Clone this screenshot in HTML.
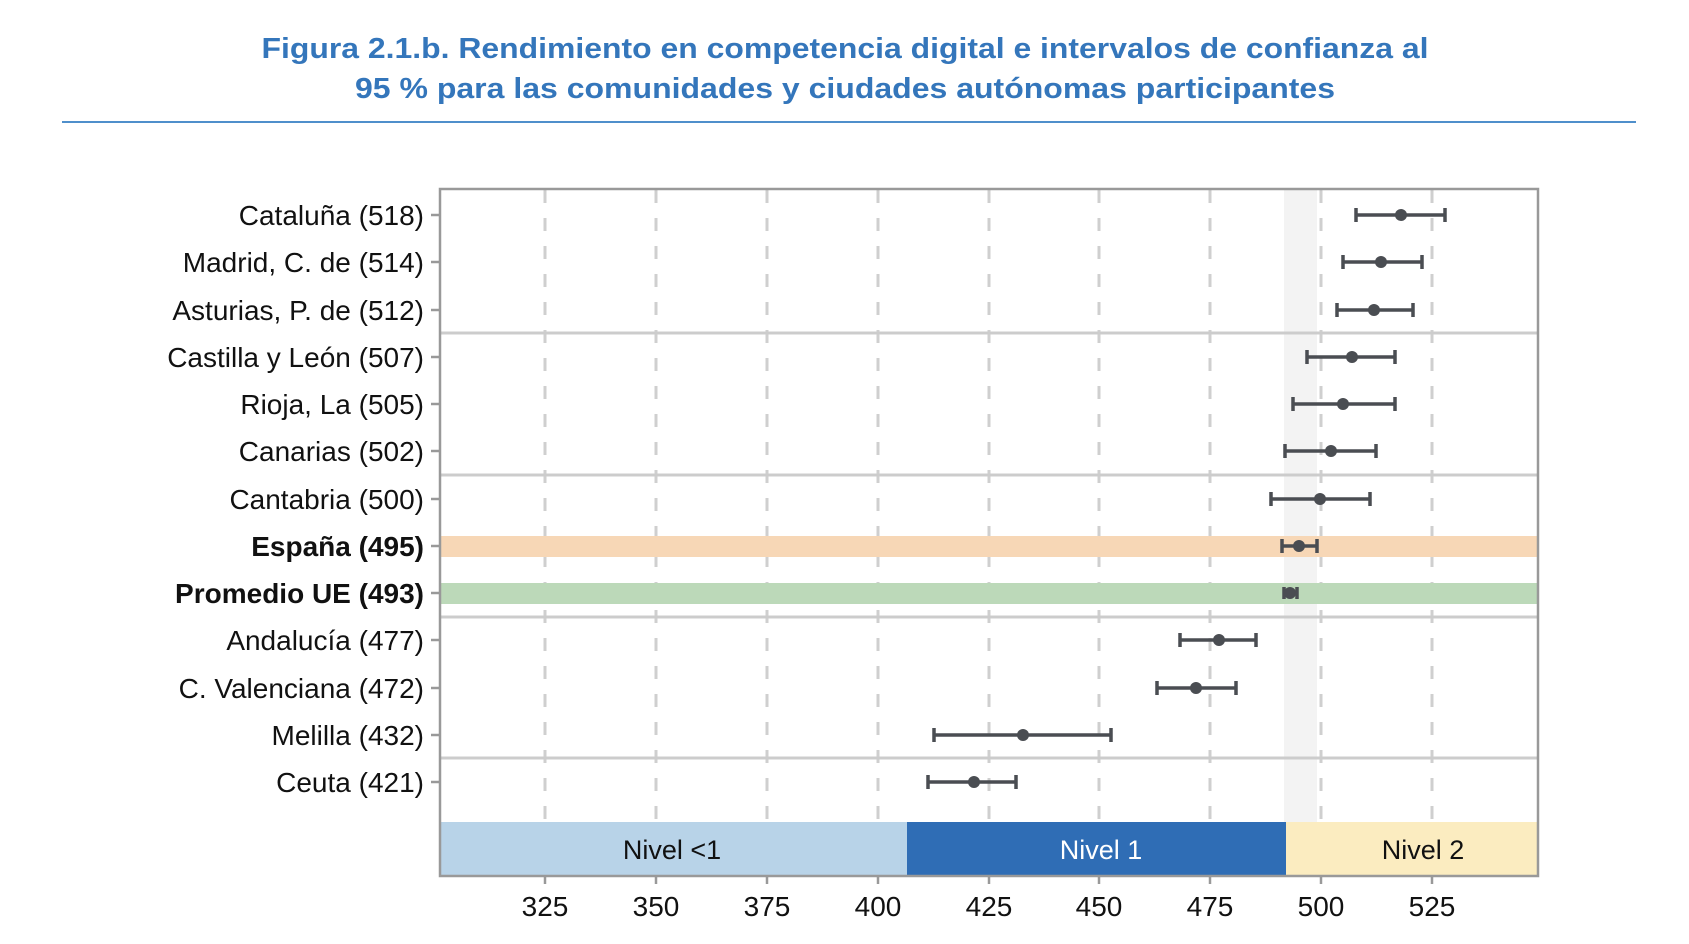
<!DOCTYPE html>
<html><head><meta charset="utf-8"><style>html,body{margin:0;padding:0;background:#fff}svg{display:block}</style></head>
<body>
<svg width="1689" height="944" viewBox="0 0 1689 944" xmlns="http://www.w3.org/2000/svg" font-family="Liberation Sans, Arial, sans-serif">
<text x="845" y="58" text-anchor="middle" font-size="29" font-weight="bold" fill="#3476bb" textLength="1167" lengthAdjust="spacingAndGlyphs">Figura 2.1.b. Rendimiento en competencia digital e intervalos de confianza al</text>
<text x="845" y="98" text-anchor="middle" font-size="29" font-weight="bold" fill="#3476bb" textLength="980" lengthAdjust="spacingAndGlyphs">95 % para las comunidades y ciudades autónomas participantes</text>
<line x1="62" y1="122" x2="1636" y2="122" stroke="#4f8fcb" stroke-width="2"/>
<rect x="1284" y="189" width="33" height="633" fill="#f3f3f3"/>
<g stroke="#cfcfcf" stroke-width="3" stroke-dasharray="13 15">
<line x1="545" y1="190" x2="545" y2="822"/><line x1="656" y1="190" x2="656" y2="822"/><line x1="767" y1="190" x2="767" y2="822"/><line x1="878" y1="190" x2="878" y2="822"/><line x1="989" y1="190" x2="989" y2="822"/><line x1="1099" y1="190" x2="1099" y2="822"/><line x1="1210" y1="190" x2="1210" y2="822"/><line x1="1321" y1="190" x2="1321" y2="822"/><line x1="1432" y1="190" x2="1432" y2="822"/>
</g>
<rect x="440" y="536" width="1098" height="21" fill="#f7d7b6"/>
<rect x="440" y="583" width="1098" height="21" fill="#bcd9b9"/>
<g stroke="#cccccc" stroke-width="3">
<line x1="440" y1="333" x2="1538" y2="333"/><line x1="440" y1="475" x2="1538" y2="475"/><line x1="440" y1="617" x2="1538" y2="617"/><line x1="440" y1="758" x2="1538" y2="758"/>
</g>
<rect x="440" y="822" width="467" height="54" fill="#b8d3e8"/>
<rect x="907" y="822" width="379" height="54" fill="#2f6db5"/>
<rect x="1286" y="822" width="252" height="54" fill="#fbecc0"/>
<text x="672" y="859" text-anchor="middle" font-size="27" fill="#111">Nivel &lt;1</text>
<text x="1101" y="859" text-anchor="middle" font-size="27" fill="#fff">Nivel 1</text>
<text x="1423" y="859" text-anchor="middle" font-size="27" fill="#111">Nivel 2</text>
<rect x="440" y="189" width="1098" height="687" fill="none" stroke="#999" stroke-width="2.5"/>
<g stroke="#999" stroke-width="2.5">
<line x1="545" y1="876" x2="545" y2="884"/><line x1="656" y1="876" x2="656" y2="884"/><line x1="767" y1="876" x2="767" y2="884"/><line x1="878" y1="876" x2="878" y2="884"/><line x1="989" y1="876" x2="989" y2="884"/><line x1="1099" y1="876" x2="1099" y2="884"/><line x1="1210" y1="876" x2="1210" y2="884"/><line x1="1321" y1="876" x2="1321" y2="884"/><line x1="1432" y1="876" x2="1432" y2="884"/>
</g>
<g font-size="28" fill="#111" text-anchor="middle">
<text x="545" y="916">325</text><text x="656" y="916">350</text><text x="767" y="916">375</text><text x="878" y="916">400</text><text x="989" y="916">425</text><text x="1099" y="916">450</text><text x="1210" y="916">475</text><text x="1321" y="916">500</text><text x="1432" y="916">525</text>
</g>
<g stroke="#999" stroke-width="2.5">
<line x1="431" y1="215" x2="440" y2="215"/><line x1="431" y1="262" x2="440" y2="262"/><line x1="431" y1="310" x2="440" y2="310"/><line x1="431" y1="357" x2="440" y2="357"/><line x1="431" y1="404" x2="440" y2="404"/><line x1="431" y1="451" x2="440" y2="451"/><line x1="431" y1="499" x2="440" y2="499"/><line x1="431" y1="546" x2="440" y2="546"/><line x1="431" y1="593" x2="440" y2="593"/><line x1="431" y1="640" x2="440" y2="640"/><line x1="431" y1="688" x2="440" y2="688"/><line x1="431" y1="735" x2="440" y2="735"/><line x1="431" y1="782" x2="440" y2="782"/>
</g>
<g font-size="28" fill="#111" text-anchor="end">
<text x="424" y="225">Cataluña (518)</text>
<text x="424" y="272">Madrid, C. de (514)</text>
<text x="424" y="320">Asturias, P. de (512)</text>
<text x="424" y="367">Castilla y León (507)</text>
<text x="424" y="414">Rioja, La (505)</text>
<text x="424" y="461">Canarias (502)</text>
<text x="424" y="509">Cantabria (500)</text>
<text x="424" y="556" font-weight="bold">España (495)</text>
<text x="424" y="603" font-weight="bold">Promedio UE (493)</text>
<text x="424" y="650">Andalucía (477)</text>
<text x="424" y="698">C. Valenciana (472)</text>
<text x="424" y="745">Melilla (432)</text>
<text x="424" y="792">Ceuta (421)</text>
</g>
<g stroke="#4a4d52" stroke-width="3.5" fill="none">
<path d="M1356 215H1445M1356 208V222M1445 208V222"/>
<path d="M1343 262H1422M1343 255V269M1422 255V269"/>
<path d="M1337 310H1413M1337 303V317M1413 303V317"/>
<path d="M1307 357H1395M1307 350V364M1395 350V364"/>
<path d="M1293 404H1395M1293 397V411M1395 397V411"/>
<path d="M1285 451H1376M1285 444V458M1376 444V458"/>
<path d="M1271 499H1370M1271 492V506M1370 492V506"/>
<path d="M1282 546H1317M1282 539V553M1317 539V553"/>
<path d="M1284 593H1297M1284 587V599M1297 587V599"/>
<path d="M1180 640H1256M1180 633V647M1256 633V647"/>
<path d="M1157 688H1236M1157 681V695M1236 681V695"/>
<path d="M934 735H1111M934 728V742M1111 728V742"/>
<path d="M928 782H1016M928 775V789M1016 775V789"/>
</g>
<g fill="#4a4d52">
<circle cx="1401" cy="215" r="6"/><circle cx="1381" cy="262" r="6"/><circle cx="1374" cy="310" r="6"/><circle cx="1352" cy="357" r="6"/><circle cx="1343" cy="404" r="6"/><circle cx="1331" cy="451" r="6"/><circle cx="1320" cy="499" r="6"/><circle cx="1299" cy="546" r="6"/><circle cx="1290" cy="593" r="6"/><circle cx="1219" cy="640" r="6"/><circle cx="1196" cy="688" r="6"/><circle cx="1023" cy="735" r="6"/><circle cx="974" cy="782" r="6"/>
</g>
</svg>
</body></html>
